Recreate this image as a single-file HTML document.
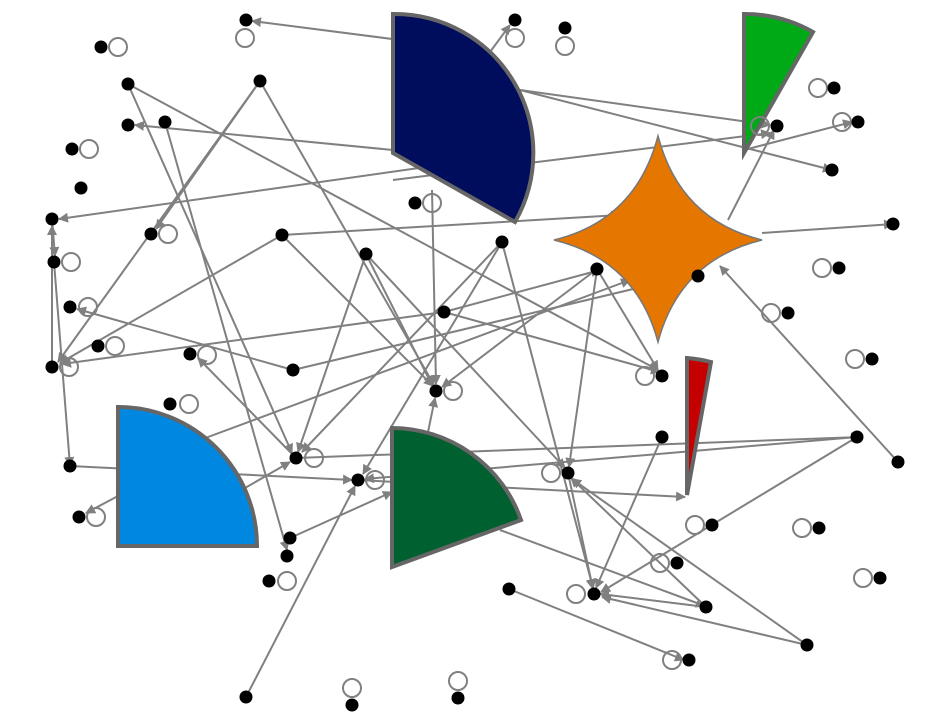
<!DOCTYPE html>
<html><head><meta charset="utf-8"><style>html,body{margin:0;padding:0;background:#fff}svg{display:block}</style></head>
<body>
<svg width="950" height="727" viewBox="0 0 950 727" xmlns="http://www.w3.org/2000/svg">
<defs><marker id="a" viewBox="0 0 10 10" refX="9" refY="5" markerWidth="5" markerHeight="5" orient="auto"><path d="M0,0L10,5L0,10z" fill="#808080"/></marker></defs>
<g stroke="#808080" stroke-width="2" fill="none" marker-end="url(#a)">
<line x1="400" y1="40" x2="252" y2="21"/>
<line x1="490" y1="52" x2="510" y2="25"/>
<line x1="260" y1="81" x2="58" y2="362"/>
<line x1="260" y1="81" x2="434" y2="385"/>
<line x1="260" y1="81" x2="156" y2="229"/>
<line x1="128" y1="84" x2="658" y2="370"/>
<line x1="128" y1="84" x2="292" y2="453"/>
<line x1="165" y1="122" x2="287" y2="550"/>
<line x1="393" y1="150" x2="135" y2="125"/>
<line x1="440" y1="165" x2="59" y2="219"/>
<line x1="520" y1="90" x2="770" y2="125"/>
<line x1="520" y1="90" x2="832" y2="170"/>
<line x1="52" y1="219" x2="55" y2="256"/>
<line x1="52" y1="367" x2="52" y2="226"/>
<line x1="54" y1="262" x2="70" y2="466"/>
<line x1="282" y1="235" x2="433" y2="386"/>
<line x1="282" y1="235" x2="60" y2="363"/>
<line x1="282" y1="235" x2="620" y2="215"/>
<line x1="366" y1="254" x2="432" y2="385"/>
<line x1="366" y1="254" x2="298" y2="452"/>
<line x1="366" y1="254" x2="565" y2="468"/>
<line x1="502" y1="242" x2="302" y2="452"/>
<line x1="502" y1="242" x2="363" y2="474"/>
<line x1="502" y1="242" x2="593" y2="588"/>
<line x1="597" y1="269" x2="442" y2="387"/>
<line x1="597" y1="269" x2="569" y2="467"/>
<line x1="597" y1="269" x2="658" y2="370"/>
<line x1="444" y1="312" x2="62" y2="364"/>
<line x1="293" y1="370" x2="77" y2="309"/>
<line x1="293" y1="370" x2="650" y2="285"/>
<line x1="428" y1="432" x2="435" y2="398"/>
<line x1="432" y1="190" x2="436" y2="384"/>
<line x1="662" y1="437" x2="596" y2="588"/>
<line x1="857" y1="437" x2="365" y2="479"/>
<line x1="857" y1="437" x2="601" y2="592"/>
<line x1="898" y1="462" x2="720" y2="266"/>
<line x1="744" y1="150" x2="852" y2="122"/>
<line x1="393" y1="180" x2="770" y2="133"/>
<line x1="728" y1="220" x2="774" y2="130"/>
<line x1="762" y1="233" x2="893" y2="224"/>
<line x1="200" y1="440" x2="630" y2="280"/>
<line x1="245" y1="488" x2="290" y2="462"/>
<line x1="70" y1="466" x2="352" y2="480"/>
<line x1="296" y1="458" x2="198" y2="358"/>
<line x1="358" y1="480" x2="685" y2="497"/>
<line x1="118" y1="496" x2="86" y2="513"/>
<line x1="290" y1="538" x2="392" y2="492"/>
<line x1="246" y1="697" x2="355" y2="486"/>
<line x1="509" y1="589" x2="684" y2="660"/>
<line x1="500" y1="530" x2="705" y2="606"/>
<line x1="706" y1="607" x2="571" y2="478"/>
<line x1="706" y1="607" x2="600" y2="594"/>
<line x1="807" y1="645" x2="572" y2="479"/>
<line x1="807" y1="645" x2="602" y2="597"/>
<line x1="568" y1="473" x2="593" y2="589"/>
<line x1="444" y1="312" x2="600" y2="270"/>
<line x1="444" y1="312" x2="660" y2="372"/>
<line x1="296" y1="458" x2="860" y2="437"/>
</g>
<!-- shapes -->
<path d="M393,153 L393,14 A139,139 0 0 1 515,222 Z" fill="#000c5c" stroke="#666" stroke-width="4"/>
<path d="M744,153 L744,14 A139,139 0 0 1 813,32 Z" fill="#00aa17" stroke="#666" stroke-width="4"/>
<path d="M658,136 Q680,220 762,240 Q680,260 658,342 Q636,260 554,240 Q636,220 658,136 Z" fill="#e57700" stroke="#777" stroke-width="1.5"/>
<path d="M687,495 L687,358 A137,137 0 0 1 711,362 Z" fill="#c40000" stroke="#666" stroke-width="4"/>
<path d="M118,546 L118,407 A139,139 0 0 1 257,546 Z" fill="#0088e0" stroke="#666" stroke-width="4"/>
<path d="M392,567 L392,428 A137,137 0 0 1 521,520 Z" fill="#006030" stroke="#666" stroke-width="4"/>
<!-- self loops -->
<g stroke="#808080" stroke-width="2" fill="none">
<circle cx="118" cy="47" r="9"/><circle cx="245" cy="38" r="9"/><circle cx="515" cy="38" r="9"/><circle cx="565" cy="46" r="9"/>
<circle cx="89" cy="149" r="9"/><circle cx="432" cy="203" r="9"/><circle cx="168" cy="234" r="9"/><circle cx="71" cy="262" r="9"/>
<circle cx="88" cy="307" r="9"/><circle cx="115" cy="346" r="9"/><circle cx="69" cy="367" r="9"/><circle cx="207" cy="355" r="9"/>
<circle cx="453" cy="391" r="9"/><circle cx="645" cy="376" r="9"/><circle cx="189" cy="404" r="9"/><circle cx="314" cy="458" r="9"/>
<circle cx="375" cy="480" r="9"/><circle cx="551" cy="473" r="9"/><circle cx="96" cy="517" r="9"/><circle cx="287" cy="581" r="9"/>
<circle cx="576" cy="594" r="9"/><circle cx="695" cy="525" r="9"/><circle cx="660" cy="563" r="9"/><circle cx="672" cy="660" r="9"/>
<circle cx="352" cy="688" r="9"/><circle cx="458" cy="681" r="9"/><circle cx="818" cy="88" r="9"/><circle cx="842" cy="122" r="9"/>
<circle cx="822" cy="268" r="9"/><circle cx="771" cy="313" r="9"/><circle cx="855" cy="359" r="9"/><circle cx="802" cy="528" r="9"/>
<circle cx="863" cy="578" r="9"/><circle cx="760" cy="126" r="9"/>
</g>
<g fill="#000">
<circle cx="246" cy="20" r="6.5"/><circle cx="515" cy="20" r="6.5"/><circle cx="565" cy="28" r="6.5"/><circle cx="101" cy="47" r="6.5"/>
<circle cx="128" cy="84" r="6.5"/><circle cx="260" cy="81" r="6.5"/><circle cx="128" cy="125" r="6.5"/><circle cx="165" cy="122" r="6.5"/>
<circle cx="72" cy="149" r="6.5"/><circle cx="81" cy="188" r="6.5"/><circle cx="52" cy="219" r="6.5"/><circle cx="54" cy="262" r="6.5"/>
<circle cx="151" cy="234" r="6.5"/><circle cx="282" cy="235" r="6.5"/><circle cx="415" cy="203" r="6.5"/><circle cx="366" cy="254" r="6.5"/>
<circle cx="502" cy="242" r="6.5"/><circle cx="597" cy="269" r="6.5"/><circle cx="698" cy="276" r="6.5"/><circle cx="444" cy="312" r="6.5"/>
<circle cx="70" cy="307" r="6.5"/><circle cx="98" cy="346" r="6.5"/><circle cx="52" cy="367" r="6.5"/><circle cx="190" cy="354" r="6.5"/>
<circle cx="293" cy="370" r="6.5"/><circle cx="436" cy="391" r="6.5"/><circle cx="662" cy="376" r="6.5"/><circle cx="170" cy="404" r="6.5"/>
<circle cx="70" cy="466" r="6.5"/><circle cx="296" cy="458" r="6.5"/><circle cx="358" cy="480" r="6.5"/><circle cx="568" cy="473" r="6.5"/>
<circle cx="662" cy="437" r="6.5"/><circle cx="857" cy="437" r="6.5"/><circle cx="898" cy="462" r="6.5"/><circle cx="79" cy="517" r="6.5"/>
<circle cx="290" cy="538" r="6.5"/><circle cx="287" cy="556" r="6.5"/><circle cx="269" cy="581" r="6.5"/><circle cx="509" cy="589" r="6.5"/>
<circle cx="594" cy="594" r="6.5"/><circle cx="706" cy="607" r="6.5"/><circle cx="712" cy="525" r="6.5"/><circle cx="677" cy="563" r="6.5"/>
<circle cx="807" cy="645" r="6.5"/><circle cx="689" cy="660" r="6.5"/><circle cx="246" cy="697" r="6.5"/><circle cx="352" cy="705" r="6.5"/>
<circle cx="458" cy="698" r="6.5"/><circle cx="777" cy="126" r="6.5"/><circle cx="832" cy="170" r="6.5"/><circle cx="858" cy="122" r="6.5"/>
<circle cx="834" cy="88" r="6.5"/><circle cx="893" cy="224" r="6.5"/><circle cx="839" cy="268" r="6.5"/><circle cx="788" cy="313" r="6.5"/>
<circle cx="872" cy="359" r="6.5"/><circle cx="819" cy="528" r="6.5"/><circle cx="880" cy="578" r="6.5"/>
</g>
</svg>
</body></html>
